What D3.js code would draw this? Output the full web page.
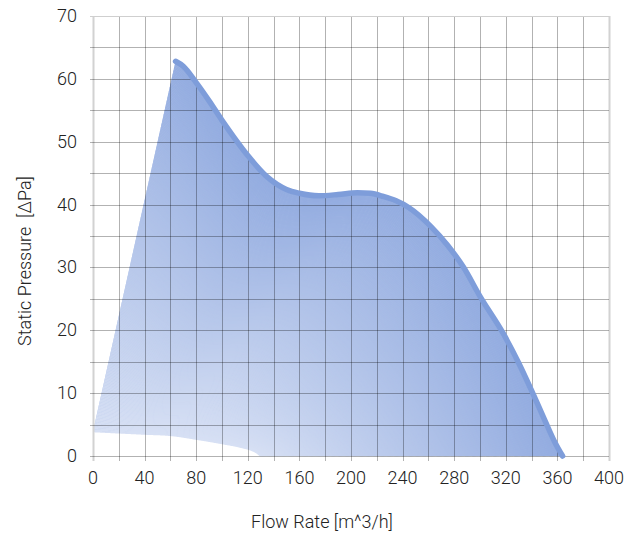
<!DOCTYPE html>
<html>
<head>
<meta charset="utf-8">
<script src="https://cdn.jsdelivr.net/npm/d3@7"></script>
<style>
  body { margin: 0; background: #fff; }
  text { font-family: Roboto, sans-serif; font-weight: 300; fill: #222; }
</style>
</head>
<body>
<script>
// axis ticks
const flowTicks = [0, 40, 80, 120, 160, 200, 240, 280, 320, 360, 400]
const pressureTicks = [0, 10, 20, 30, 40, 50, 60, 70]

// outer fan curve (full speed)
const curveFlow = [64, 70, 80, 90, 100, 110, 120, 135, 150, 160, 175, 190, 205, 215, 225, 235, 245, 262, 275, 287, 300, 318, 330, 340, 350, 358, 364]
const curvePressure = [62.8, 62, 59.4, 56.5, 53.4, 50.5, 47.8, 44.4, 42.4, 41.8, 41.4, 41.6, 41.9, 41.8, 41.3, 40.6, 39.5, 36.5, 33.5, 30.1, 25.4, 19.5, 14.8, 10.4, 5.8, 2.2, 0]

// lowest curve of the operating range
const baseFlow = [0, 20, 40, 60, 80, 100, 115, 122, 127, 130]
const basePressure = [3.9, 3.7, 3.5, 3.3, 2.7, 2.0, 1.4, 1.0, 0.5, 0]

const width = 638
const height = 538
const margin = { top: 16, right: 29, bottom: 82, left: 93 }

const svg = d3.select('body').append('svg')
  .attr('width', width)
  .attr('height', height)

const x = d3.scaleLinear().domain([0, 400]).range([margin.left, width - margin.right])
const y = d3.scaleLinear().domain([0, 70]).range([height - margin.bottom, margin.top])

const line = d3.line()
  .x(d => x(d[0]))
  .y(d => y(d[1]))
  .curve(d3.curveMonotoneX)

const topPts = curveFlow.map((f, i) => [f, curvePressure[i]])
const basePts = baseFlow.map((f, i) => [f, basePressure[i]])

// sample a smooth path by length fraction
function sample (pts, n) {
  const p = svg.append('path').attr('d', line(pts)).attr('fill', 'none')
  const node = p.node()
  const len = node.getTotalLength()
  const out = []
  for (let j = 0; j < n; j++) {
    const q = node.getPointAtLength(len * j / (n - 1))
    out.push([q.x, q.y])
  }
  p.remove()
  return out
}

const M = 320
const topS = sample(topPts, M)
const baseS = sample(basePts, M)

const color = d3.interpolateRgb('#d7e0f4', '#93ace0')

const area = svg.append('g')

// backing shape so no gap shows between the speed curves
area.append('path')
  .attr('d', d3.line()(baseS.concat(topS.slice().reverse())) + 'Z')
  .attr('fill', color(0.5))

// speed curves between the lowest curve and the full-speed curve
const N = 260
const family = d3.range(N).map(i => i / (N - 1))
area.selectAll('path.speed')
  .data(family)
  .enter()
  .append('path')
  .attr('class', 'speed')
  .attr('fill', 'none')
  .attr('stroke', t => color(t))
  .attr('stroke-width', 1.6)
  .attr('d', t => d3.line()(baseS.map((b, j) => [b[0] + (topS[j][0] - b[0]) * t, b[1] + (topS[j][1] - b[1]) * t])))

// grid
const grid = svg.append('g')
const vLines = d3.range(0, 401, 20)
const hLines = d3.range(0, 71, 5)

grid.selectAll('line.v')
  .data(vLines)
  .enter()
  .append('line')
  .attr('x1', d => Math.round(x(d)) + 0.5)
  .attr('x2', d => Math.round(x(d)) + 0.5)
  .attr('y1', y(70))
  .attr('y2', y(0) + 5)
  .attr('stroke', d => (d === 0 || d === 400) ? '#d2d2d2' : 'rgba(0,0,0,0.3)')
  .attr('stroke-width', d => (d === 0 || d === 400) ? 2 : 1)

grid.selectAll('line.h')
  .data(hLines)
  .enter()
  .append('line')
  .attr('x1', x(0) - 3)
  .attr('x2', x(400))
  .attr('y1', d => Math.round(y(d)) + 0.5)
  .attr('y2', d => Math.round(y(d)) + 0.5)
  .attr('stroke', d => d === 70 ? '#cfcfcf' : 'rgba(0,0,0,0.3)')

// full-speed curve
svg.append('path')
  .attr('d', line(topPts))
  .attr('fill', 'none')
  .attr('stroke', '#7e9dda')
  .attr('stroke-width', 5.5)
  .attr('stroke-linecap', 'round')

// tick labels
svg.append('g').selectAll('text')
  .data(flowTicks)
  .enter()
  .append('text')
  .attr('x', d => x(d))
  .attr('y', y(0) + 28)
  .attr('text-anchor', 'middle')
  .attr('font-size', 18)
  .text(d => d)

svg.append('g').selectAll('text')
  .data(pressureTicks)
  .enter()
  .append('text')
  .attr('x', x(0) - 16)
  .attr('y', d => y(d) + 6)
  .attr('text-anchor', 'end')
  .attr('font-size', 18)
  .text(d => d)

// axis titles
svg.append('text')
  .attr('x', 322)
  .attr('y', 528)
  .attr('text-anchor', 'middle')
  .attr('font-size', 18)
  .text('Flow Rate [m^3/h]')

svg.append('text')
  .attr('transform', 'translate(31,261) rotate(-90)')
  .attr('text-anchor', 'middle')
  .attr('font-size', 18)
  .style('white-space', 'pre')
  .text('Static Pressure  [ΔPa]')
</script>
</body>
</html>
